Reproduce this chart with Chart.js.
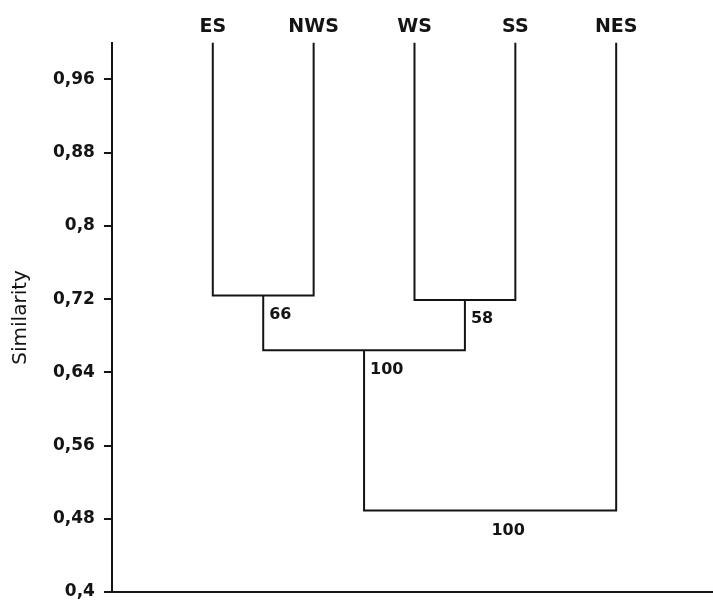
<!DOCTYPE html>
<html>
<head>
<meta charset="utf-8">
<script src="https://cdn.jsdelivr.net/npm/chart.js@4/dist/chart.umd.min.js"></script>
<style>
  html, body { margin: 0; padding: 0; background: #ffffff; }
  #wrap { width: 713px; height: 600px; position: relative; }
</style>
</head>
<body>
<div id="wrap"><canvas id="c"></canvas></div>
<script>
// ---- data ----
const leaves = ['ES', 'NWS', 'WS', 'SS', 'NES'];
// merges: node ids 0..4 are leaves, 5.. are merges in order
const mergeA = [0, 2, 5, 7];
const mergeB = [1, 3, 6, 4];
const mergeHeights = [0.724, 0.719, 0.664, 0.489];
const bootstrap = [66, 58, 100, 100];
const yTickValues = [0.4, 0.48, 0.56, 0.64, 0.72, 0.8, 0.88, 0.96];
const yTitle = 'Similarity';

// ---- build nodes ----
const nodeX = leaves.map((_, i) => i + 1);
const nodeY = leaves.map(() => 1.0);
mergeA.forEach((a, i) => {
  const b = mergeB[i];
  nodeX.push((nodeX[a] + nodeX[b]) / 2);
  nodeY.push(mergeHeights[i]);
});

const ink = '#141414';
const datasets = mergeA.map((a, i) => {
  const b = mergeB[i];
  const h = mergeHeights[i];
  return {
    data: [
      { x: nodeX[a], y: nodeY[a] },
      { x: nodeX[a], y: h },
      { x: nodeX[b], y: h },
      { x: nodeX[b], y: nodeY[b] }
    ],
    showLine: true,
    borderColor: ink,
    borderWidth: 2,
    pointRadius: 0,
    tension: 0,
    borderJoinStyle: 'miter',
    borderCapStyle: 'butt',
    clip: false
  };
});

const bootstrapPlugin = {
  id: 'bootstrapLabels',
  afterDatasetsDraw(chart) {
    const { ctx, scales } = chart;
    const xs = scales.x, ys = scales.y;
    ctx.save();
    ctx.fillStyle = ink;
    ctx.font = 'bold 16px "DejaVu Sans"';
    ctx.textBaseline = 'top';
    bootstrap.forEach((v, i) => {
      const node = leaves.length + i;
      const px = xs.getPixelForValue(nodeX[node]);
      const py = ys.getPixelForValue(mergeHeights[i]);
      const isRoot = i === bootstrap.length - 1;
      if (isRoot) {
        ctx.textAlign = 'center';
        ctx.fillText(String(v), px + 18, py + 12);
      } else {
        ctx.textAlign = 'left';
        ctx.fillText(String(v), px + 6, py + 11);
      }
    });
    ctx.restore();
  }
};

new Chart(document.getElementById('c'), {
  type: 'scatter',
  data: { datasets },
  options: {
    responsive: true,
    maintainAspectRatio: false,
    animation: false,
    layout: { padding: { left: 7, right: 0, top: 12, bottom: 0 } },
    plugins: { legend: { display: false }, tooltip: { enabled: false } },
    scales: {
      x: {
        type: 'linear',
        position: 'bottom',
        min: 0,
        max: 5.96,
        grid: { display: false },
        border: { display: true, color: ink, width: 2 },
        ticks: { display: false },
        afterBuildTicks: (s) => { s.ticks = []; }
      },
      xTop: {
        type: 'linear',
        position: 'top',
        min: 0,
        max: 5.96,
        grid: { display: false, drawTicks: false },
        border: { display: false },
        afterBuildTicks: (s) => { s.ticks = leaves.map((_, i) => ({ value: i + 1 })); },
        ticks: {
          autoSkip: false,
          maxRotation: 0,
          padding: 4,
          color: ink,
          font: { family: 'DejaVu Sans', size: 19, weight: 'bold' },
          callback: (v) => leaves[Math.round(v) - 1] || ''
        }
      },
      y: {
        type: 'linear',
        min: 0.4,
        max: 1.0,
        afterBuildTicks: (s) => { s.ticks = yTickValues.map(v => ({ value: v })); },
        grid: {
          drawOnChartArea: false, drawTicks: true, tickLength: 17,
          tickBorderDash: [8, 9], tickBorderDashOffset: 8,
          color: ink, tickColor: ink, tickWidth: 2, lineWidth: 2
        },
        border: { display: true, color: ink, width: 2 },
        ticks: {
          padding: 0,
          color: ink,
          font: { family: 'DejaVu Sans', size: 17, weight: 'bold', lineHeight: 0.85 },
          callback: (v) => String(Math.round(v * 100) / 100).replace('.', ',')
        },
        title: {
          display: true,
          text: yTitle,
          color: ink,
          font: { family: 'DejaVu Sans', size: 20 },
          padding: { top: 2, bottom: 20 }
        }
      }
    }
  },
  plugins: [bootstrapPlugin]
});
</script>
</body>
</html>
